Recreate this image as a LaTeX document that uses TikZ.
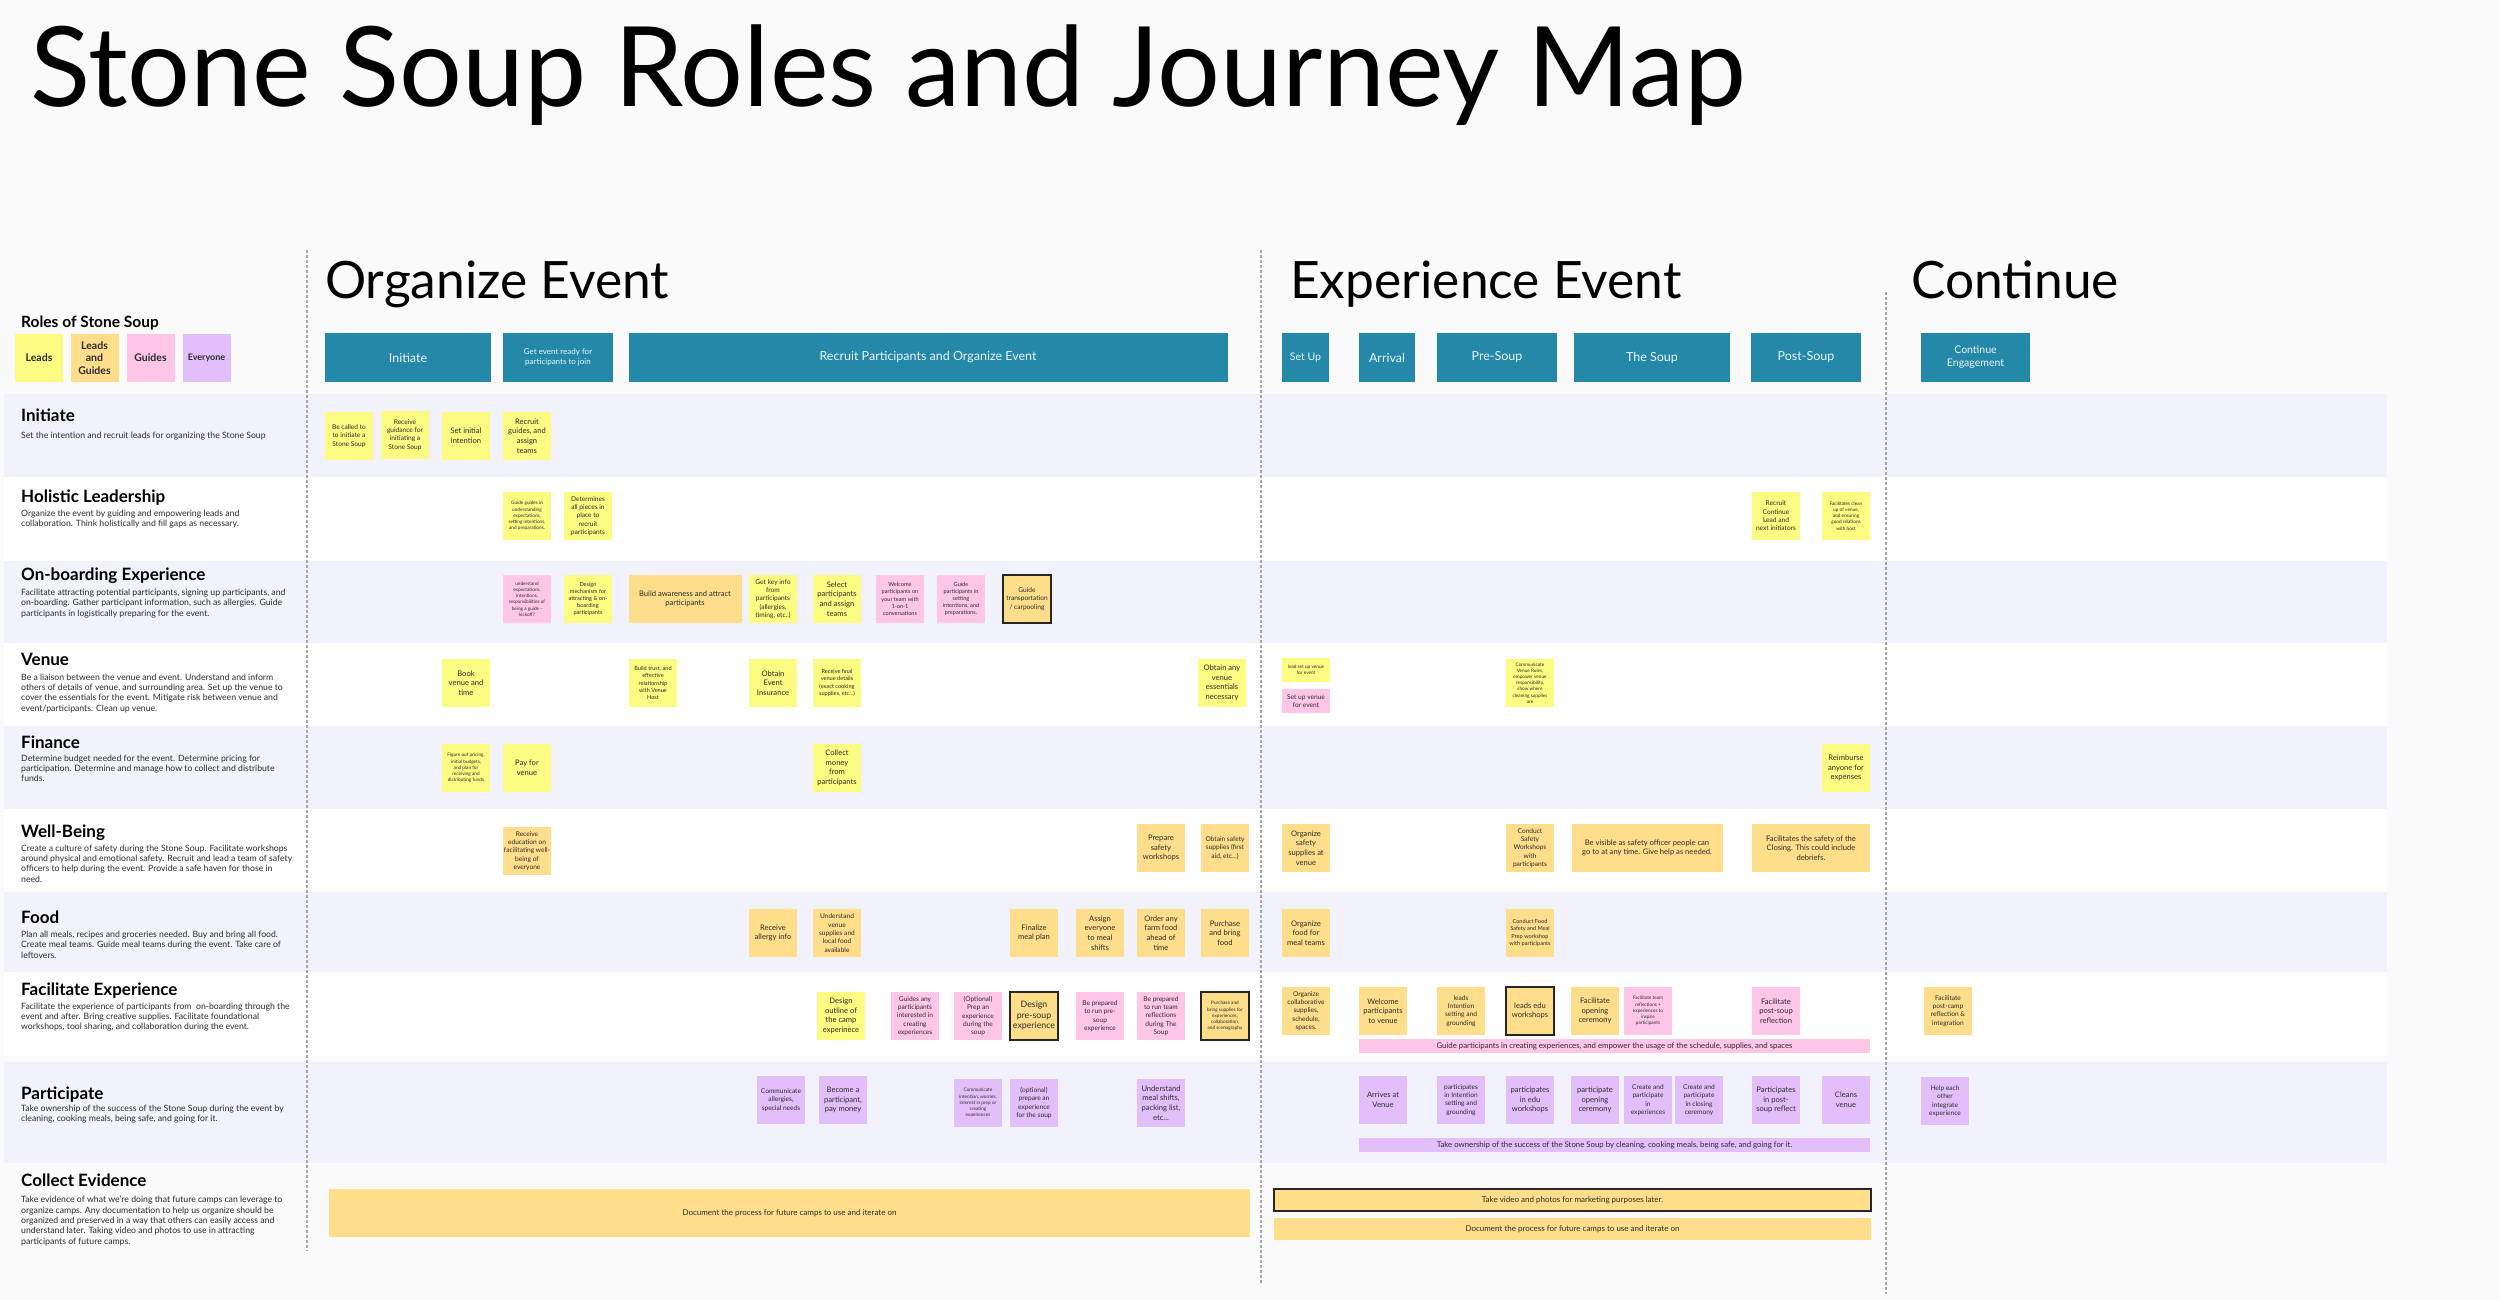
\documentclass[tikz,border=0pt]{standalone}
\usepackage{fontspec}
\setmainfont{Lato}
\usepackage{xcolor}

\definecolor{paper}{HTML}{FAFAFA}
\definecolor{band}{HTML}{F2F2FC}
\definecolor{ink}{HTML}{2B2B2B}
\definecolor{teal}{HTML}{2488A8}
\definecolor{leadc}{HTML}{FCFC82}
\definecolor{pairc}{HTML}{FEDE8A}
\definecolor{guidec}{HTML}{FFC6E8}
\definecolor{allc}{HTML}{E2BFFA}

\begin{document}
\begin{tikzpicture}[x=1pt,y=-1pt,
  note/.style={minimum width=48pt, minimum height=48pt, inner sep=1pt, align=center, text=ink},
  leads/.style={note, fill=leadc},
  pair/.style={note, fill=pairc},
  guides/.style={note, fill=guidec},
  everyone/.style={note, fill=allc},
  hl/.style={draw=black!85, line width=1.5pt},
  nb/.style={font=\fontsize{8.8}{10.5}\selectfont},
  nt/.style={font=\fontsize{7.6}{9.6}\selectfont},
  ns/.style={font=\fontsize{6.6}{8.3}\selectfont},
  nx/.style={font=\fontsize{5.6}{7.2}\selectfont},
  nxx/.style={font=\fontsize{4.7}{6.2}\selectfont},
  strip/.style={note, minimum width=511pt, minimum height=14pt, font=\fontsize{7.8}{9}\selectfont},
  phase/.style={fill=teal, text=white!92!teal, minimum height=49pt, inner sep=1pt, align=center, font=\fontsize{12.5}{15}\selectfont},
  section/.style={anchor=base west, inner sep=0pt, font=\fontsize{51.5}{58}\selectfont},
  role/.style={anchor=base west, inner sep=0pt, font=\bfseries\fontsize{17}{20}\selectfont},
  roledesc/.style={anchor=north west, inner sep=0pt, align=left, text=ink, font=\fontsize{8.7}{10.3}\selectfont},
  divider/.style={draw=black!35, line width=2.5pt, dash pattern=on 2.5pt off 2.5pt}
]
  % Page and bounding box
  \fill[paper] (0,0) rectangle (2500,1300);
  \useasboundingbox (0,0) rectangle (2500,1300);

  % Row bands (lavender and white)
  \fill[band] (4,394) rectangle (2387,477);
  \fill[white] (4,477) rectangle (2387,561);
  \fill[band] (4,561) rectangle (2387,643);
  \fill[white] (4,643) rectangle (2387,726);
  \fill[band] (4,726) rectangle (2387,809);
  \fill[white] (4,809) rectangle (2387,892);
  \fill[band] (4,892) rectangle (2387,972);
  \fill[white] (4,972) rectangle (2387,1056);
  \fill[band] (4,1062) rectangle (2387,1163);

  % Dotted phase dividers
  \draw[divider] (307,250) -- (307,1251);
  \draw[divider] (1261,250) -- (1261,1283);
  \draw[divider] (1886,292) -- (1886,1294);

  % Titles
  \node[anchor=base west, inner sep=0pt, font=\fontsize{111}{120}\selectfont] (title) at (30,107) {Stone Soup Roles and Journey Map};
  \node[section] (organize) at (325,298) {Organize Event};
  \node[section] (experience) at (1290,298) {Experience Event};
  \node[section] (continue) at (1911,298) {Continue};

  % Legend
  \node[anchor=base west, inner sep=0pt, font=\bfseries\fontsize{15.5}{18}\selectfont] (legend) at (21,327) {Roles of Stone Soup};
  \node[leads, font=\bfseries\fontsize{10.5}{12.7}\selectfont] (keyleads) at (39,358) {Leads};
  \node[pair, font=\bfseries\fontsize{10.5}{12.7}\selectfont] (keypair) at (94.5,358) {Leads\\and\\Guides};
  \node[guides, font=\bfseries\fontsize{10.5}{12.7}\selectfont] (keyguides) at (150.5,358) {Guides};
  \node[everyone, font=\bfseries\fontsize{9}{11}\selectfont] (keyall) at (206.5,358) {Everyone};

  % Phase headers
  \node[phase, minimum width=166pt] (hinit) at (408,357.5) {Initiate};
  \node[phase, minimum width=110pt, font=\fontsize{8}{10}\selectfont] (hready) at (558,357.5) {Get event ready for\\participants to join};
  \node[phase, minimum width=599pt] (hrecruit) at (928,357.5) {Recruit Participants and Organize Event};
  \node[phase, minimum width=47pt, font=\fontsize{10.5}{12}\selectfont] (hsetup) at (1305.5,357.5) {Set Up};
  \node[phase, minimum width=56pt] (harrival) at (1387,357.5) {Arrival};
  \node[phase, minimum width=120pt] (hpre) at (1497,357.5) {Pre-Soup};
  \node[phase, minimum width=156pt] (hsoup) at (1652,357.5) {The Soup};
  \node[phase, minimum width=110pt] (hpost) at (1806,357.5) {Post-Soup};
  \node[phase, minimum width=109pt, font=\fontsize{10.5}{13}\selectfont] (hcont) at (1975.5,357.5) {Continue\\Engagement};

  % Roles column
  \node[role] (rinit) at (21,421.7) {Initiate};
  \node[roledesc] (dinit) at (21,432) {Set the intention and recruit leads for organizing the Stone Soup};
  \node[role] (rlead) at (21,502) {Holistic Leadership};
  \node[roledesc] (dlead) at (21,509.5) {Organize the event by guiding and empowering leads and\\collaboration. Think holistically and fill gaps as necessary.};
  \node[role] (rboard) at (21,580) {On-boarding Experience};
  \node[roledesc] (dboard) at (21,589) {Facilitate attracting potential participants, signing up participants, and\\on-boarding. Gather participant information, such as allergies. Guide\\participants in logistically preparing for the event.};
  \node[role] (rvenue) at (21,665.7) {Venue};
  \node[roledesc] (dvenue) at (21,673.5) {Be a liaison between the venue and event. Understand and inform\\others of details of venue, and surrounding area. Set up the venue to\\cover the essentials for the event. Mitigate risk between venue and\\event/participants. Clean up venue.};
  \node[role] (rfin) at (21,748.3) {Finance};
  \node[roledesc] (dfin) at (21,754.5) {Determine budget needed for the event. Determine pricing for\\participation. Determine and manage how to collect and distribute\\funds.};
  \node[role] (rwell) at (21,837.3) {Well-Being};
  \node[roledesc] (dwell) at (21,844.5) {Create a culture of safety during the Stone Soup. Facilitate workshops\\around physical and emotional safety. Recruit and lead a team of safety\\officers to help during the event. Provide a safe haven for those in\\need.};
  \node[role] (rfood) at (21,923.3) {Food};
  \node[roledesc] (dfood) at (21,931) {Plan all meals, recipes and groceries needed. Buy and bring all food.\\Create meal teams. Guide meal teams during the event. Take care of\\leftovers.};
  \node[role] (rfac) at (21,995.7) {Facilitate Experience};
  \node[roledesc] (dfac) at (21,1002.5) {Facilitate the experience of participants from\ \ on-boarding through the\\event and after. Bring creative supplies. Facilitate foundational\\workshops, tool sharing, and collaboration during the event.};
  \node[role] (rpart) at (21,1099) {Participate};
  \node[roledesc] (dpart) at (21,1105) {Take ownership of the success of the Stone Soup during the event by\\cleaning, cooking meals, being safe, and going for it.};
  \node[role] (rcoll) at (21,1186.7) {Collect Evidence};
  \node[roledesc] (dcoll) at (21,1196) {Take evidence of what we're doing that future camps can leverage to\\organize camps. Any documentation to help us organize should be\\organized and preserved in a way that others can easily access and\\understand later. Taking video and photos to use in attracting\\participants of future camps.};

  % Initiate
  \node[leads, ns] (called) at (349,436) {Be called to\\to initiate a\\Stone Soup};
  \node[leads, ns] (guidance) at (405,435) {Receive\\guidance for\\initiating a\\Stone Soup};
  \node[leads, nt] (intent) at (466,436) {Set initial\\intention};
  \node[leads, nt] (recruit) at (527,436) {Recruit\\guides, and\\assign\\teams};

  % Holistic Leadership
  \node[leads, nxx] (guideguides) at (527,516) {Guide guides in\\understanding\\expectations,\\setting intentions,\\and preparations.};
  \node[leads, ns] (pieces) at (588,516) {Determines\\all pieces in\\place to\\recruit\\participants};
  \node[leads, ns] (nextlead) at (1776,516) {Recruit\\Continue\\Lead and\\next initiators};
  \node[leads, nxx] (cleanup) at (1846,516) {Facilitates clean\\up of venue,\\and ensuring\\good relations\\with host};

  % On-boarding Experience
  \node[guides, nxx] (kickoff) at (527,599) {understand\\expectations,\\intentions,\\responsibilities of\\being a guide -\\kickoff?};
  \node[leads, nx] (attract) at (588,599) {Design\\mechanism for\\attracting \& on-\\boarding\\participants};
  \node[pair, nt, minimum width=113pt] (aware) at (685,599) {Build awareness and attract\\participants};
  \node[leads, ns] (keyinfo) at (773,599) {Get key info\\from\\participants\\(allergies,\\timing, etc..)};
  \node[leads, nt] (select) at (837,599) {Select\\participants\\and assign\\teams};
  \node[guides, nx] (welcome) at (900,599) {Welcome\\participants on\\your team with\\1-on-1\\conversations};
  \node[guides, nx] (intentions) at (961,599) {Guide\\participants in\\setting\\intentions, and\\preparations.};
  \node[pair, hl, ns] (carpool) at (1027,599) {Guide\\transportation\\/ carpooling};

  % Venue
  \node[leads, nt] (book) at (466,683) {Book\\venue and\\time};
  \node[leads, nx] (trust) at (653,683) {Build trust, and\\effective\\relationship\\with Venue\\Host};
  \node[leads, nt] (insure) at (773,683) {Obtain\\Event\\Insurance};
  \node[leads, nx] (details) at (837,683) {Receive final\\venue details\\(exact cooking\\supplies, etc...)};
  \node[leads, nt] (essentials) at (1222,683) {Obtain any\\venue\\essentials\\necessary};
  \node[leads, nxx, minimum height=24pt] (leadsetup) at (1306,670) {lead set up venue\\for event};
  \node[guides, ns, minimum height=24pt] (setup) at (1306,701) {Set up venue\\for event};
  \node[leads, nxx] (rules) at (1530,683) {Communicate\\Venue Rules,\\empower venue\\responsibility,\\show where\\cleaning supplies\\are};

  % Finance
  \node[leads, nxx] (pricing) at (466,768) {Figure out pricing,\\initial budgets,\\and plan for\\receiving and\\distributing funds};
  \node[leads, nt] (payvenue) at (527,768) {Pay for\\venue};
  \node[leads, nt] (collect) at (837,768) {Collect\\money\\from\\participants};
  \node[leads, nt] (reimburse) at (1846,768) {Reimburse\\anyone for\\expenses};

  % Well-Being
  \node[pair, ns] (education) at (527,851) {Receive\\education on\\facilitating well-\\being of\\everyone};
  \node[pair, nt] (safetyws) at (1161,848) {Prepare\\safety\\workshops};
  \node[pair, ns] (firstaid) at (1225,848) {Obtain safety\\supplies (first\\aid, etc...)};
  \node[pair, nt] (safetysup) at (1306,848) {Organize\\safety\\supplies at\\venue};
  \node[pair, ns] (conductws) at (1530,848) {Conduct\\Safety\\Workshops\\with\\participants};
  \node[pair, nt, minimum width=151pt] (visible) at (1647,848) {Be visible as safety officer people can\\go to at any time. Give help as needed.};
  \node[pair, nt, minimum width=118pt] (closing) at (1811,848) {Facilitates the safety of the\\Closing. This could include\\debriefs.};

  % Food
  \node[pair, nt] (allergy) at (773,933) {Receive\\allergy info};
  \node[pair, ns] (localfood) at (837,933) {Understand\\venue\\supplies and\\local food\\available};
  \node[pair, nt] (mealplan) at (1034,933) {Finalize\\meal plan};
  \node[pair, nt] (shifts) at (1100,933) {Assign\\everyone\\to meal\\shifts};
  \node[pair, nt] (farm) at (1161,933) {Order any\\farm food\\ahead of\\time};
  \node[pair, nt] (buyfood) at (1225,933) {Purchase\\and bring\\food};
  \node[pair, nt] (mealteams) at (1306,933) {Organize\\food for\\meal teams};
  \node[pair, nx] (foodws) at (1530,933) {Conduct Food\\Safety and Meal\\Prep workshop\\with participants};

  % Facilitate Experience
  \node[leads, nt] (outline) at (841,1016) {Design\\outline of\\the camp\\experinece};
  \node[guides, ns] (guidesany) at (915,1016) {Guides any\\participants\\interested in\\creating\\experiences};
  \node[guides, ns] (optprep) at (978,1016) {(Optional)\\Prep an\\experience\\during the\\soup};
  \node[pair, hl, nb] (presoup) at (1034,1016) {Design\\pre-soup\\experience};
  \node[guides, ns] (runpre) at (1100,1016) {Be prepared\\to run pre-\\soup\\experience};
  \node[guides, ns] (runteam) at (1161,1016) {Be prepared\\to run team\\reflections\\during The\\Soup};
  \node[pair, hl, nxx] (scenog) at (1225,1016) {Purchase and\\bring supplies for\\experiences,\\collaboration,\\and scenography};
  \node[pair, ns] (collab) at (1306,1011) {Organize\\collaborative\\supplies,\\schedule,\\spaces.};
  \node[pair, nt] (welcvenue) at (1383,1011) {Welcome\\participants\\to venue};
  \node[pair, ns] (leadsint) at (1461,1011) {leads\\Intention\\setting and\\grounding};
  \node[pair, hl, nt] (leadsedu) at (1530,1011) {leads edu\\workshops};
  \node[pair, nt] (opening) at (1595,1011) {Facilitate\\opening\\ceremony};
  \node[guides, nxx] (teamrefl) at (1648,1011) {Facilitate team\\reflections +\\experiences to\\inspire\\participants};
  \node[guides, nt] (postrefl) at (1776,1011) {Facilitate\\post-soup\\reflection};
  \node[guides, strip] (guidebar) at (1614.5,1046) {Guide participants in creating experiences, and empower the usage of the schedule, supplies, and spaces};
  \node[pair, ns] (postcamp) at (1948,1011) {Facilitate\\post-camp\\reflection \&\\integration};

  % Participate
  \node[everyone, ns] (allergies) at (781,1100) {Communicate\\allergies,\\special needs};
  \node[everyone, nt] (become) at (843,1100) {Become a\\participant,\\pay money};
  \node[everyone, nxx] (worries) at (978,1103) {Communicate\\intention, worries,\\interest in prep or\\creating\\experiences};
  \node[everyone, ns] (optexp) at (1034,1103) {(optional)\\prepare an\\experience\\for the soup};
  \node[everyone, nt] (packing) at (1161,1103) {Understand\\meal shifts,\\packing list,\\etc...};
  \node[everyone, nt] (arrives) at (1383,1100) {Arrives at\\Venue};
  \node[everyone, ns] (partint) at (1461,1100) {participates\\in Intention\\setting and\\grounding};
  \node[everyone, nt] (partedu) at (1530,1100) {participates\\in edu\\workshops};
  \node[everyone, nt] (partopen) at (1595,1100) {participate\\opening\\ceremony};
  \node[everyone, ns] (createexp) at (1648,1100) {Create and\\participate\\in\\experiences};
  \node[everyone, ns] (createclose) at (1699,1100) {Create and\\participate\\in closing\\ceremony};
  \node[everyone, nt] (partpost) at (1776,1100) {Participates\\in post-\\soup reflect};
  \node[everyone, nt] (cleans) at (1846,1100) {Cleans\\venue};
  \node[everyone, strip] (ownbar) at (1614.5,1145) {Take ownership of the success of the Stone Soup by cleaning, cooking meals, being safe, and going for it.};
  \node[everyone, ns] (integrate) at (1945,1101) {Help each\\other\\integrate\\experience};

  % Collect Evidence
  \node[pair, font=\fontsize{8}{9.6}\selectfont, minimum width=921pt] (docorg) at (789.5,1213) {Document the process for future camps to use and iterate on};
  \node[pair, hl, font=\fontsize{8}{9.6}\selectfont, minimum width=597pt, minimum height=22pt] (video) at (1572.5,1200) {Take video and photos for marketing purposes later.};
  \node[pair, font=\fontsize{8}{9.6}\selectfont, minimum width=597pt, minimum height=22pt] (docexp) at (1572.5,1229) {Document the process for future camps to use and iterate on};
\end{tikzpicture}
\end{document}
